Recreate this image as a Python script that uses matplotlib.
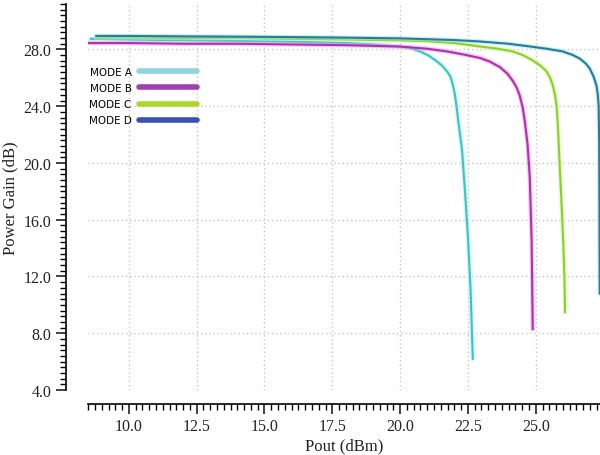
import numpy as np
import matplotlib
matplotlib.use("Agg")
from matplotlib import pyplot as plt
import matplotlib.ticker as ticker
import matplotlib.patheffects as pe
from matplotlib.lines import Line2D

# Pout (dBm) / Power Gain (dB) for each mode
mode_a_x = [8.6, 10, 12, 14, 16, 18, 19, 20, 20.4, 20.74, 21.05, 21.36, 21.55, 21.73, 21.85, 21.91, 21.97, 22.02, 22.08, 22.14, 22.21, 22.28, 22.4, 22.5, 22.6, 22.68]
mode_a_y = [28.75, 28.7, 28.65, 28.6, 28.55, 28.45, 28.35, 28.21, 28.08, 27.86, 27.57, 27.15, 26.85, 26.45, 26.1, 25.74, 25.3, 24.8, 24.0, 23.0, 22.0, 21.0, 17.8, 14.8, 11.0, 6.2]

mode_b_x = [8.5, 10, 12, 14, 16, 18, 20, 21, 21.73, 22.4, 22.94, 23.3, 23.68, 23.95, 24.15, 24.3, 24.41, 24.52, 24.6, 24.7, 24.78, 24.85, 24.89]
mode_b_y = [28.45, 28.45, 28.4, 28.4, 28.35, 28.3, 28.2, 28.05, 27.86, 27.62, 27.4, 27.15, 26.75, 26.3, 25.8, 25.3, 24.75, 23.9, 22.92, 21.3, 19.0, 14.5, 8.3]

mode_c_x = [8.8, 10, 12, 14, 16, 18, 20, 21, 22, 22.94, 23.6, 24.15, 24.55, 24.89, 25.18, 25.4, 25.53, 25.63, 25.71, 25.77, 25.82, 25.88, 25.96, 26.02, 26.06, 26.08]
mode_c_y = [28.85, 28.85, 28.8, 28.8, 28.75, 28.7, 28.64, 28.58, 28.45, 28.21, 28.05, 27.86, 27.58, 27.22, 26.85, 26.45, 26.0, 25.46, 24.8, 24.05, 22.5, 20.0, 16.8, 14.2, 11.8, 9.5]

mode_d_x = [8.8, 10, 12, 14, 16, 18, 20, 22, 22.94, 24.0, 24.78, 25.4, 25.99, 26.35, 26.62, 26.85, 26.99, 27.13, 27.24, 27.29, 27.32, 27.34, 27.35, 27.36]
mode_d_y = [28.95, 28.95, 28.92, 28.9, 28.87, 28.83, 28.78, 28.66, 28.56, 28.4, 28.21, 28.05, 27.86, 27.62, 27.36, 27.0, 26.66, 26.1, 25.46, 24.8, 24.05, 21.5, 16.0, 10.8]

labels = ["MODE A", "MODE B", "MODE C", "MODE D"]
curve_colors = ["#3cc4c4", "#b030b0", "#8ccf30", "#2a7a9c"]
glow_colors = ["#b0f4f4", "#f0a0f0", "#d8f8a0", "#a0e8f0"]
legend_colors = ["#90d4e0", "#a040b0", "#a8d82a", "#3a50b4"]

fig = plt.figure(figsize=(6, 4.56), dpi=100)
ax = fig.add_axes([0.147, 0.1425, 0.853, 0.8465])

series = [(mode_a_x, mode_a_y), (mode_b_x, mode_b_y), (mode_c_x, mode_c_y), (mode_d_x, mode_d_y)]
for (xs, ys), c, g in zip(series, curve_colors, glow_colors):
    ax.plot(xs, ys, color=c, lw=1.5, solid_joinstyle="round",
            path_effects=[pe.Stroke(linewidth=3.2, foreground=g, alpha=0.6), pe.Normal()])

ax.set_xlim(8.5, 27.37)
ax.set_ylim(4.0, 31.2)
ax.xaxis.set_major_locator(ticker.MultipleLocator(2.5))
ax.xaxis.set_minor_locator(ticker.MultipleLocator(0.25))
ax.yaxis.set_major_locator(ticker.MultipleLocator(4))
ax.yaxis.set_minor_locator(ticker.MultipleLocator(0.4))
ax.xaxis.set_major_formatter(ticker.FormatStrFormatter("%.1f"))
ax.yaxis.set_major_formatter(ticker.FormatStrFormatter("%.1f"))

ax.spines["top"].set_visible(False)
ax.spines["right"].set_visible(False)
ax.spines["bottom"].set_position(("outward", 10))
ax.spines["left"].set_position(("outward", 16))
ax.spines["left"].set_linewidth(1.2)
ax.spines["bottom"].set_linewidth(1.2)
ax.tick_params(which="major", length=7, width=1.2, direction="out")
ax.tick_params(which="minor", length=4, width=1.0, direction="out")
ax.tick_params(labelsize=11.5, colors="#222222")
for lbl in ax.get_xticklabels() + ax.get_yticklabels():
    lbl.set_family("Liberation Serif")

ax.grid(True, which="major", linestyle=(0, (1, 2)), color="#c8c8c8", lw=1.0)
ax.set_axisbelow(True)

ax.set_xlabel("Pout (dBm)", family="Liberation Serif", fontsize=12, color="#222222", labelpad=2)
ax.set_ylabel("Power Gain (dB)", family="Liberation Serif", fontsize=12, color="#222222", labelpad=4)

handles = [Line2D([0], [0], color=c, lw=4, solid_capstyle="round") for c in legend_colors]
ax.legend(handles, labels, loc="upper left", bbox_to_anchor=(-0.017, 0.862), frameon=False,
          markerfirst=False, handlelength=5.6, handletextpad=0.7, labelspacing=0.6,
          prop={"family": "DejaVu Sans", "size": 7.5})

plt.savefig("out.png", dpi=100)
plt.close()
